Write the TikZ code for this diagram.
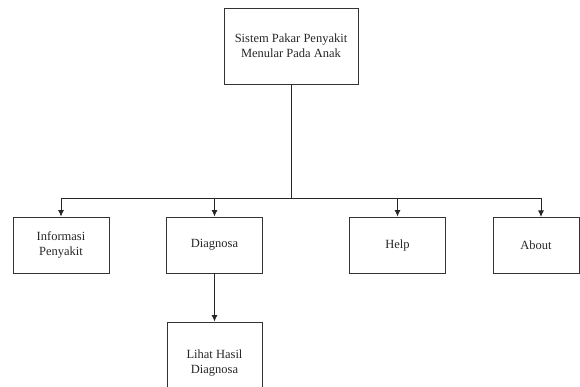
\documentclass[tikz,border=0pt]{standalone}
\usepackage{fontspec}
\setmainfont{Liberation Serif}
\usetikzlibrary{arrows.meta}
\begin{document}
\begin{tikzpicture}[x=1pt,y=-1pt,
  box/.style={draw=black!80, line width=0.9pt, minimum width=96pt, minimum height=56pt, align=center, inner sep=0pt, font=\fontsize{12.5}{15}\selectfont, text=black!85},
  conn/.style={draw=black!85, line width=0.8pt},
  arr/.style={conn, -{Latex[length=6.5pt,width=6pt]}}]
\useasboundingbox (0,0) rectangle (580,387);
\clip (0,0) rectangle (580,387);
\node[box, minimum width=134pt, minimum height=76pt] (root) at (291,46) {Sistem Pakar Penyakit\\Menular Pada Anak};
\node[box] (info) at (61,245) {Informasi\\Penyakit};
\node[box] (diag) at (214.5,245) {Diagnosa};
\node[box] (help) at (397.5,245) {Help};
\node[box, minimum width=86pt] (about) at (536,245) {About};
\node[box, minimum width=95pt, minimum height=82pt] (lihat) at (214.5,363) {Lihat Hasil\\Diagnosa};
\coordinate (bus) at (291,198);
\draw[conn] (root.south) -- (bus);
\draw[conn] (bus -| info.north) -- (bus -| 541,0);
\draw[arr] (bus -| info.north) -- (info.north);
\draw[arr] (bus -| diag.north) -- (diag.north);
\draw[arr] (bus -| help.north) -- (help.north);
\draw[arr] (541,198) -- (541,217);
\draw[arr] (diag.south) -- (lihat.north);
\end{tikzpicture}
\end{document}
